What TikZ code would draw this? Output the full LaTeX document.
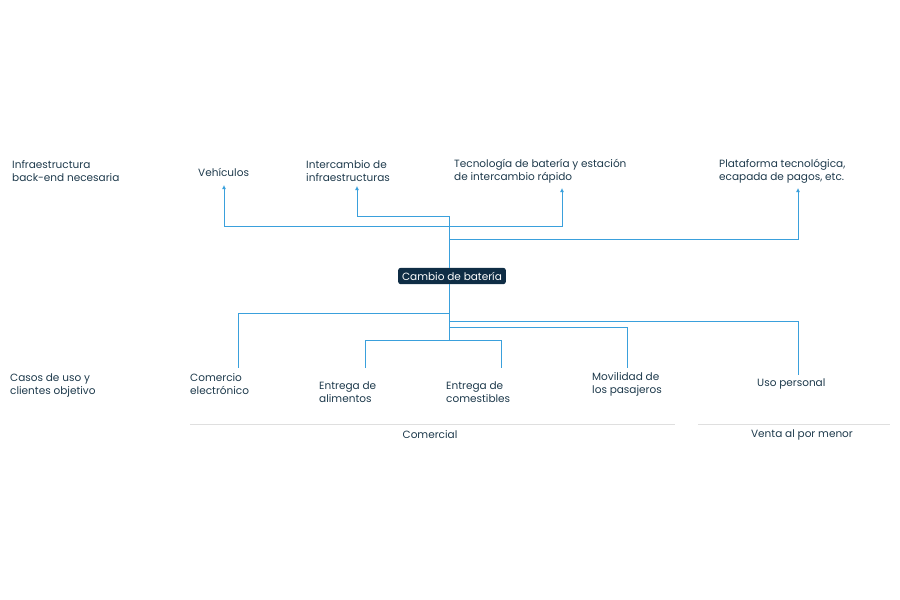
\documentclass[tikz,border=0pt]{standalone}
\usepackage{fontspec}
\setmainfont{Poppins}
\begin{document}
\begin{tikzpicture}[x=1pt,y=-1pt,
  lbl/.style={anchor=west,align=left,font=\fontsize{10.5}{13}\selectfont,text=txt,inner sep=0pt},
  conn/.style={draw=ln,line width=0.9pt},
  arr/.style={conn,-{Latex[length=4pt,width=4pt]}}]
\definecolor{txt}{HTML}{1E3A4C}
\definecolor{ln}{HTML}{3AA0DC}
\definecolor{box}{HTML}{0F2D45}
\useasboundingbox (0,0) rectangle (900,600);
\usetikzlibrary{arrows.meta}
\node[lbl] (l1) at (12,171) {Infraestructura\\back-end necesaria};
\node[lbl] (veh) at (198,172) {Vehículos};
\node[lbl] (inf) at (306,171) {Intercambio de\\infraestructuras};
\node[lbl] (tec) at (454,171) {Tecnología de batería y estación\\de intercambio rápido};
\node[lbl] (pla) at (719,171) {Plataforma tecnológica,\\ecapada de pagos, etc.};
\node[fill=box,text=white,rounded corners=2.5pt,font=\fontsize{10.5}{13}\selectfont,inner xsep=4pt,inner ysep=4pt] (cb) at (452,276) {Cambio de batería};
\node[lbl] (l2) at (10,385) {Casos de uso y\\clientes objetivo};
\node[lbl] (com) at (190,384) {Comercio\\electrónico};
\node[lbl] (ali) at (319,392) {Entrega de\\alimentos};
\node[lbl] (cme) at (446,392) {Entrega de\\comestibles};
\node[lbl] (mov) at (592,384) {Movilidad de\\los pasajeros};
\node[lbl] (uso) at (757,384) {Uso personal};
\node[font=\fontsize{10.5}{13}\selectfont,text=txt] (c1) at (430,435) {Comercial};
\node[font=\fontsize{10.5}{13}\selectfont,text=txt] (c2) at (802,435) {Venta al por menor};
\draw[gray!25,line width=0.8pt] (190,424) -- (675,424) (698,424) -- (890,424);
\coordinate (t) at (449,216);
\draw[conn] (449,216) -- (cb.north -| 449,0);
\draw[conn] (cb.south -| 449,0) -- (449,340);
\draw[arr] (449,216) -- (357,216) -- (357,186);
\draw[arr] (449,226) -- (224,226) -- (224,185);
\draw[arr] (449,226) -- (562,226) -- (562,188);
\draw[arr] (449,239) -- (798,239) -- (798,188);
\draw[conn] (449,313) -- (238,313) -- (238,368);
\draw[conn] (449,321) -- (798,321) -- (798,375);
\draw[conn] (449,327) -- (627,327) -- (627,368);
\draw[conn] (365,368) -- (365,340) -- (501,340) -- (501,368);
\end{tikzpicture}
\end{document}
